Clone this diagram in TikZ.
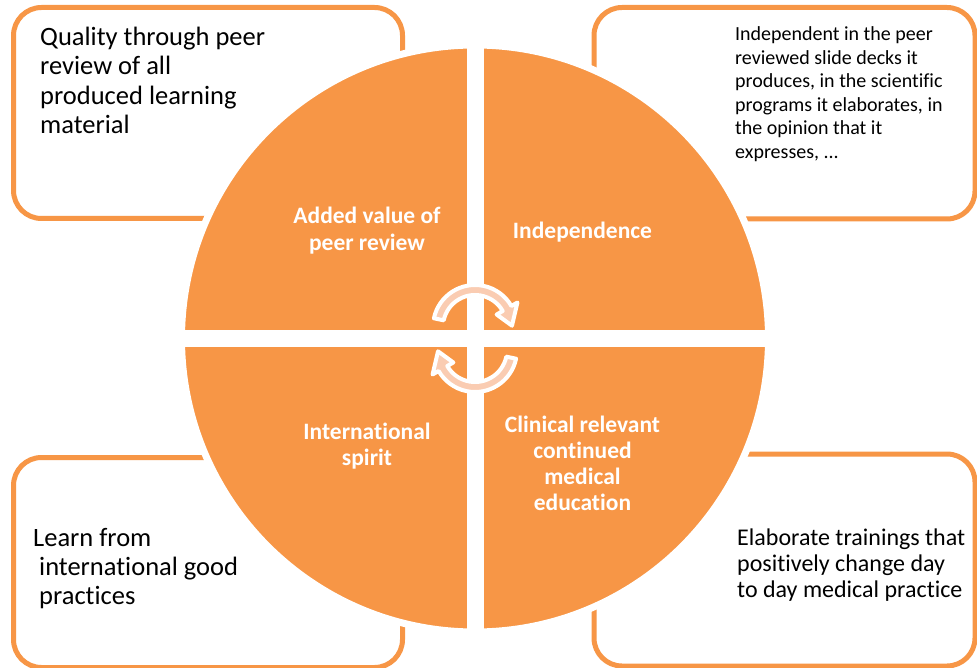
\documentclass[tikz,border=0pt]{standalone}
\usepackage{fontspec}
\setmainfont{Carlito}[Ligatures={NoCommon}]
\definecolor{orng}{RGB}{247,150,70}
\definecolor{peach}{RGB}{250,204,178}
\begin{document}
\begin{tikzpicture}[x=1pt,y=-1pt]
\useasboundingbox (0,0) rectangle (977,668);
\tikzset{
 infobox/.style={draw=orng, line width=5pt, rounded corners=28pt, fill=white, inner sep=0pt},
 boxtext/.style={anchor=north west, inner sep=0pt, align=left, text=black},
 quadlabel/.style={anchor=north, inner sep=0pt, align=center, text=white, font=\bfseries\fontsize{23.5}{26.5}\selectfont},
 cyclearrow/.style={fill=peach, draw=white, line width=4pt, line join=round},
 gapline/.style={draw=white, line width=17pt},
}
% corner boxes
\node[infobox, minimum width=389pt, minimum height=211pt] (tlbox) at (208,113) {};
\node[infobox, minimum width=381pt, minimum height=211.5pt] (trbox) at (784.5,113.25) {};
\node[infobox, minimum width=389pt, minimum height=210pt] (blbox) at (208,562.5) {};
\node[infobox, minimum width=381pt, minimum height=212pt] (brbox) at (784.5,560) {};
% central disk with white rim
\node[circle, fill=orng, draw=white, line width=7pt, minimum size=587pt, inner sep=0pt] (disk) at (475,338.5) {};
\draw[gapline] (disk.north) -- (disk.south);
\draw[gapline] (disk.west) -- (disk.east);
% cycle arrows
\begin{scope}[shift={(475,327)}]
\path[cyclearrow] (192:32) -- (192:42) arc[start angle=192,end angle=330,radius=42] -- (330:49) -- (358:37) -- (330:25) -- (330:32) arc[start angle=330,end angle=192,radius=32] -- cycle;
\end{scope}
\begin{scope}[shift={(475,350)}]
\path[cyclearrow] (12:32) -- (12:42) arc[start angle=12,end angle=150,radius=42] -- (150:49) -- (178:37) -- (150:25) -- (150:32) arc[start angle=150,end angle=12,radius=32] -- cycle;
\end{scope}
% quadrant labels
\node[quadlabel] (qa) at (367,201.5) {\rule{0pt}{22pt}Added value of\\peer review};
\node[quadlabel] (qi) at (582.5,216) {\rule{0pt}{22pt}Independence};
\node[quadlabel] (qs) at (367,417) {\rule{0pt}{22pt}International\\spirit};
\node[quadlabel, font=\bfseries\fontsize{23.5}{26}\selectfont] (qc) at (582.5,410) {\rule{0pt}{22pt}Clinical relevant\\continued\\medical\\education};
% box texts
\node[boxtext, font=\fontsize{26.5}{29.5}\selectfont] (tltext) at (40,23) {\rule{0pt}{22pt}Quality through peer\\review of all\\produced learning\\material};
\node[boxtext, font=\fontsize{20}{23.5}\selectfont] (trtext) at (735,18.7) {\rule{0pt}{22pt}Independent in the peer\\reviewed slide decks it\\produces, in the scientific\\programs it elaborates, in\\the opinion that it\\expresses, ...};
\node[boxtext, font=\fontsize{26.5}{29}\selectfont] (bltext) at (33,524) {\rule{0pt}{22pt}Learn from\\\hspace*{6pt}international good\\\hspace*{6pt}practices};
\node[boxtext, font=\fontsize{24}{26.3}\selectfont] (brtext) at (737,523) {\rule{0pt}{22pt}Elaborate trainings that\\positively change day\\to day medical practice};
\end{tikzpicture}
\end{document}
